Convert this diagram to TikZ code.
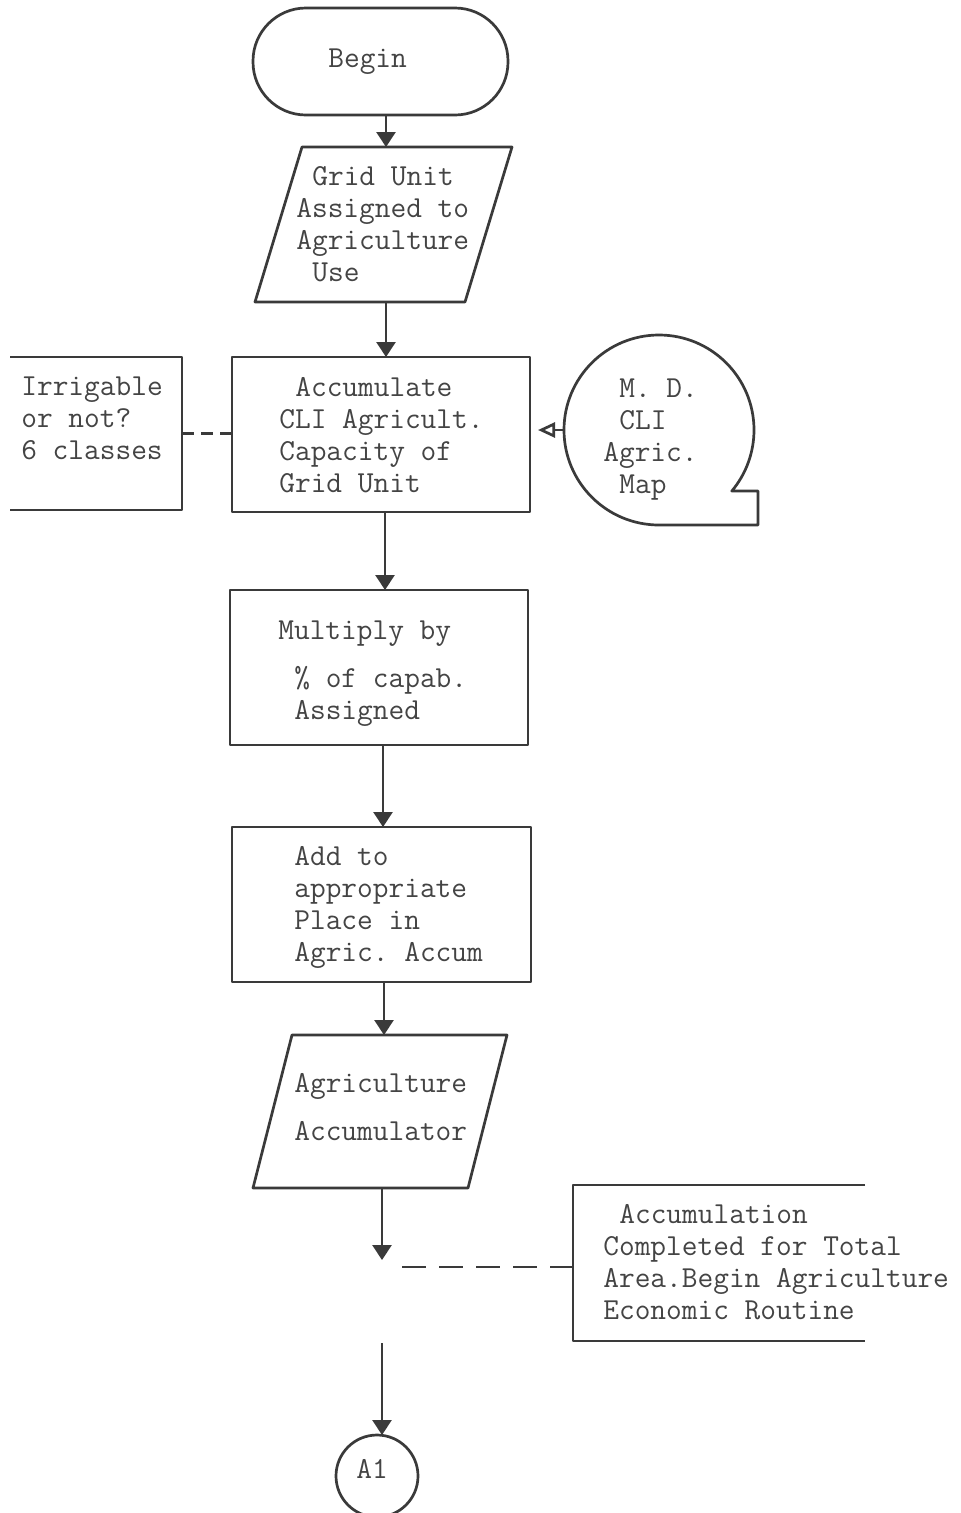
\documentclass[tikz,border=0pt]{standalone}
\usetikzlibrary{arrows.meta}
\definecolor{ink}{HTML}{3A3A3A}
\definecolor{type}{HTML}{444444}
% one typewriter character of horizontal space
\newcommand\chsp{\hspace*{0.525em}}
\begin{document}
\frenchspacing
\begin{tikzpicture}[x=1pt,y=1pt,line width=2.7pt,line join=round,
  ghost/.style={inner sep=0,outer sep=0,draw=none},
  procbox/.style={draw=ink,rectangle,inner sep=0,outer sep=0},
  % text blocks are placed by the baseline of their last line
  txt/.style={inner sep=0,anchor=base west,align=left,text=type,
    font=\fontsize{30.5}{32}\selectfont\ttfamily},
  flow/.style={draw=ink,-{Triangle[length=15pt,width=19pt]}},
  link/.style={draw=ink,dash pattern=on 24pt off 13pt},
  shortlink/.style={draw=ink,dash pattern=on 12pt off 7pt},
]
\clip (0,0) rectangle (961,-1513);
\fill[white] (0,0) rectangle (961,-1513);

% column positions of the vertical flow lines
\coordinate (c1) at (386,0);
\coordinate (c2) at (385,0);
\coordinate (c3) at (383,0);
\coordinate (c4) at (384,0);
\coordinate (c5) at (382,0);

% ---- shapes ----
\node[procbox,rounded corners=53pt,minimum width=255,minimum height=107] (begin) at (380.5,-61.5) {};

\node[ghost,minimum width=210,minimum height=155] (grid) at (383.5,-224.5) {};
\draw[ink] ([xshift=23.5]grid.north west) -- ([xshift=23.5]grid.north east)
  -- ([xshift=-23.5]grid.south east) -- ([xshift=-23.5]grid.south west) -- cycle;

\node[procbox,minimum width=298,minimum height=155] (accum) at (381,-434.5) {};

\node[ghost,minimum width=172,minimum height=153] (irr) at (96,-433.5) {};
\draw[ink] (irr.north west) -- (irr.north east) -- (irr.south east) -- (irr.south west);

\node[ghost,circle,minimum size=190] (map) at (659,-430) {};
\draw[ink] (map.south) arc[start angle=270,end angle=-40,radius=95]
  -- (758,-491) -- (758,-525) -- cycle;

\node[procbox,minimum width=298,minimum height=155] (mult) at (379,-667.5) {};
\node[procbox,minimum width=299,minimum height=155] (add) at (381.5,-904.5) {};

\node[ghost,minimum width=215,minimum height=153] (agracc) at (380,-1111.5) {};
\draw[ink] ([xshift=19.5]agracc.north west) -- ([xshift=19.5]agracc.north east)
  -- ([xshift=-19.5]agracc.south east) -- ([xshift=-19.5]agracc.south west) -- cycle;

\node[ghost,minimum width=292,minimum height=156] (note) at (719,-1263) {};
\draw[ink] (note.north east) -- (note.north west) -- (note.south west) -- (note.south east);

\node[procbox,circle,minimum size=82] (a1) at (377,-1476) {};

% ---- texts ----
\node[txt] (begin-t) at (327,-67) {Begin};
\node[txt] (grid-t) at (295,-281) {\chsp Grid Unit\\Assigned to\\Agriculture\\\chsp Use};
\node[txt] (accum-t) at (278,-492) {\chsp Accumulate\\CLI Agricult.\\Capacity of\\Grid Unit};
\node[txt] (irr-t) at (20,-459) {Irrigable\\or not?\\6 classes};
\node[txt] (map-t) at (602,-493) {\chsp M. D.\\\chsp CLI\\Agric.\\\chsp Map};
\node[txt] (mult-t) at (277,-719) {Multiply by\\[16pt]\chsp\% of capab.\\\chsp Assigned};
\node[txt] (add-t) at (293,-961) {Add to\\appropriate\\Place in\\Agric. Accum};
\node[txt] (agracc-t) at (293,-1140) {Agriculture\\[16pt]Accumulator};
\node[txt] (note-t) at (602,-1319) {\chsp Accumulation\\Completed for Total\\Area.Begin Agriculture\\Economic Routine};
\node[txt,anchor=base] (a1-t) at (372,-1478) {A1};

% ---- connectors ----
\draw[flow] (begin.south -| c1) -- (grid.north -| c1);
\draw[flow] (grid.south -| c1) -- (accum.north -| c1);
\draw[flow] (accum.south -| c2) -- (mult.north -| c2);
\draw[flow] (mult.south -| c3) -- (add.north -| c3);
\draw[flow] (add.south -| c4) -- (agracc.north -| c4);

\coordinate (halt) at (382,-1260);
\coordinate (resume) at (382,-1343);
\draw[flow] (agracc.south -| c5) -- (halt);
\draw[flow] (resume) -- (resume |- a1.north);

\draw[shortlink] (irr.east) -- (irr.east -| accum.west);
\draw[ink,-{Triangle[open,length=17pt,width=15pt]},shorten >=8pt] (map.west) -- (map.west -| accum.east);

\coordinate (noteline) at (402,-1267);
\draw[link] (noteline) -- (noteline -| note.west);
\end{tikzpicture}
\end{document}
